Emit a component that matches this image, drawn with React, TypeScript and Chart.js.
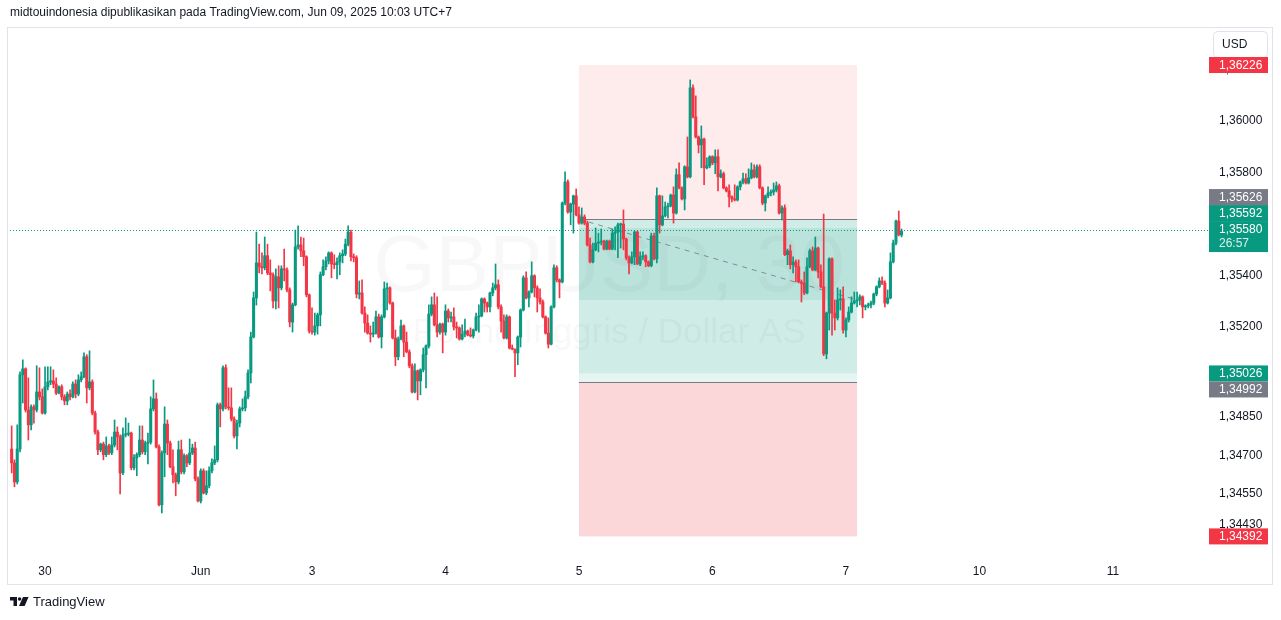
import React, { useEffect, useRef } from 'react';
import { Chart, registerables } from 'chart.js';

Chart.register(...registerables);

const FONT = '"Liberation Sans", Arial, Helvetica, sans-serif';
const UP = '#089981';
const DOWN = '#F23645';
const GRAY = '#787B86';
const TEXT = '#131722';

// ---- GBPUSD 30m candles (bar index 0 = May 29 18:00 UTC+7) ----
const opens = [
  1.34732, 1.34678, 1.34604, 1.34732, 1.35021, 1.35044, 1.34884, 1.34826, 1.34896, 1.34884,
  1.34954, 1.34935, 1.34872, 1.34974, 1.34993, 1.34997, 1.34985, 1.34950, 1.34974, 1.34935,
  1.34919, 1.34946, 1.34935, 1.34985, 1.34946, 1.35001, 1.35013, 1.35091, 1.34970, 1.34993,
  1.34872, 1.34798, 1.34729, 1.34751, 1.34710, 1.34744, 1.34717, 1.34748, 1.34798, 1.34779,
  1.34639, 1.34787, 1.34790, 1.34794, 1.34659, 1.34698, 1.34710, 1.34767, 1.34721, 1.34755,
  1.34759, 1.34888, 1.34927, 1.34740, 1.34515, 1.34717, 1.34829, 1.34755, 1.34663, 1.34632,
  1.34604, 1.34729, 1.34643, 1.34706, 1.34678, 1.34717, 1.34736, 1.34616, 1.34530, 1.34647,
  1.34561, 1.34589, 1.34647, 1.34678, 1.34690, 1.34904, 1.34888, 1.35048, 1.34896, 1.34892,
  1.34849, 1.34783, 1.34833, 1.34888, 1.34892, 1.34935, 1.35028, 1.35168, 1.35320, 1.35456,
  1.35441, 1.35437, 1.35484, 1.35417, 1.35410, 1.35308, 1.35402, 1.35359, 1.35433, 1.35429,
  1.35351, 1.35226, 1.35293, 1.35518, 1.35526, 1.35503, 1.35480, 1.35332, 1.35191, 1.35187,
  1.35211, 1.35254, 1.35410, 1.35441, 1.35464, 1.35495, 1.35452, 1.35449, 1.35460, 1.35484,
  1.35491, 1.35529, 1.35576, 1.35480, 1.35476, 1.35335, 1.35339, 1.35261, 1.35222, 1.35183,
  1.35179, 1.35183, 1.35246, 1.35168, 1.35246, 1.35355, 1.35359, 1.35300, 1.35164, 1.35091,
  1.35160, 1.35211, 1.35148, 1.35110, 1.35056, 1.34954, 1.35036, 1.34997, 1.35040, 1.35099,
  1.35133, 1.35257, 1.35293, 1.35215, 1.35187, 1.35218, 1.35187, 1.35269, 1.35242, 1.35246,
  1.35207, 1.35203, 1.35160, 1.35179, 1.35191, 1.35175, 1.35172, 1.35195, 1.35246, 1.35250,
  1.35316, 1.35300, 1.35285, 1.35339, 1.35359, 1.35371, 1.35285, 1.35230, 1.35164, 1.35246,
  1.35125, 1.35121, 1.35106, 1.35168, 1.35273, 1.35398, 1.35320, 1.35343, 1.35406, 1.35359,
  1.35320, 1.35304, 1.35246, 1.35183, 1.35140, 1.35285, 1.35437, 1.35390, 1.35382, 1.35689,
  1.35771, 1.35654, 1.35685, 1.35717, 1.35643, 1.35611, 1.35635, 1.35611, 1.35526, 1.35460,
  1.35507, 1.35533, 1.35537, 1.35541, 1.35510, 1.35541, 1.35510, 1.35572, 1.35576, 1.35604,
  1.35607, 1.35549, 1.35476, 1.35456, 1.35480, 1.35576, 1.35452, 1.35480, 1.35484, 1.35460,
  1.35445, 1.35561, 1.35472, 1.35717, 1.35604, 1.35639, 1.35674, 1.35678, 1.35720, 1.35650,
  1.35799, 1.35748, 1.35705, 1.35830, 1.35791, 1.36137, 1.36024, 1.35946, 1.35915, 1.35938,
  1.35826, 1.35834, 1.35869, 1.35845, 1.35869, 1.35791, 1.35803, 1.35748, 1.35736, 1.35713,
  1.35705, 1.35701, 1.35752, 1.35771, 1.35783, 1.35767, 1.35787, 1.35818, 1.35791, 1.35830,
  1.35748, 1.35689, 1.35717, 1.35728, 1.35732, 1.35740, 1.35756, 1.35650, 1.35670, 1.35488,
  1.35503, 1.35449, 1.35460, 1.35441, 1.35382, 1.35378, 1.35339, 1.35441, 1.35503, 1.35429,
  1.35514, 1.35421, 1.35363, 1.35102, 1.35261, 1.35472, 1.35261, 1.35242, 1.35312, 1.35316,
  1.35195, 1.35234, 1.35265, 1.35300, 1.35308, 1.35312, 1.35324, 1.35285, 1.35289, 1.35293,
  1.35300, 1.35335, 1.35363, 1.35386, 1.35378, 1.35300, 1.35320, 1.35460, 1.35533, 1.35619,
  1.35565,
];

const highs = [
  1.34822, 1.34690, 1.34826, 1.35032, 1.35079, 1.35048, 1.35009, 1.34904, 1.34904, 1.35056,
  1.35048, 1.34966, 1.35052, 1.35052, 1.35052, 1.35040, 1.35009, 1.34978, 1.34982, 1.34943,
  1.34954, 1.34962, 1.34993, 1.35001, 1.35021, 1.35032, 1.35106, 1.35099, 1.35114, 1.35001,
  1.34880, 1.34806, 1.34755, 1.34759, 1.34779, 1.34751, 1.34779, 1.34845, 1.34818, 1.34787,
  1.34814, 1.34853, 1.34833, 1.34798, 1.34710, 1.34717, 1.34822, 1.34822, 1.34763, 1.34794,
  1.34935, 1.35001, 1.34950, 1.34748, 1.34725, 1.34896, 1.34845, 1.34763, 1.34729, 1.34639,
  1.34763, 1.34767, 1.34713, 1.34710, 1.34771, 1.34751, 1.34759, 1.34624, 1.34655, 1.34655,
  1.34647, 1.34663, 1.34694, 1.34744, 1.34911, 1.34911, 1.35056, 1.35060, 1.34970, 1.34970,
  1.34857, 1.34845, 1.34896, 1.34927, 1.34958, 1.35040, 1.35187, 1.35343, 1.35576, 1.35529,
  1.35495, 1.35557, 1.35529, 1.35468, 1.35417, 1.35433, 1.35445, 1.35445, 1.35510, 1.35437,
  1.35359, 1.35300, 1.35584, 1.35600, 1.35557, 1.35553, 1.35484, 1.35335, 1.35281, 1.35261,
  1.35261, 1.35421, 1.35468, 1.35480, 1.35499, 1.35499, 1.35488, 1.35476, 1.35495, 1.35507,
  1.35549, 1.35600, 1.35584, 1.35491, 1.35484, 1.35386, 1.35390, 1.35285, 1.35254, 1.35211,
  1.35226, 1.35269, 1.35257, 1.35254, 1.35382, 1.35378, 1.35363, 1.35304, 1.35195, 1.35168,
  1.35234, 1.35215, 1.35187, 1.35118, 1.35063, 1.35063, 1.35040, 1.35044, 1.35125, 1.35137,
  1.35293, 1.35324, 1.35339, 1.35324, 1.35222, 1.35222, 1.35293, 1.35277, 1.35265, 1.35281,
  1.35226, 1.35207, 1.35215, 1.35238, 1.35195, 1.35203, 1.35199, 1.35261, 1.35293, 1.35320,
  1.35320, 1.35304, 1.35343, 1.35378, 1.35452, 1.35390, 1.35293, 1.35254, 1.35254, 1.35250,
  1.35137, 1.35121, 1.35172, 1.35277, 1.35406, 1.35421, 1.35347, 1.35460, 1.35410, 1.35367,
  1.35355, 1.35312, 1.35250, 1.35242, 1.35289, 1.35449, 1.35445, 1.35394, 1.35693, 1.35810,
  1.35779, 1.35689, 1.35720, 1.35744, 1.35674, 1.35670, 1.35643, 1.35619, 1.35553, 1.35533,
  1.35592, 1.35572, 1.35588, 1.35545, 1.35545, 1.35545, 1.35588, 1.35596, 1.35611, 1.35611,
  1.35662, 1.35553, 1.35484, 1.35499, 1.35580, 1.35580, 1.35499, 1.35499, 1.35488, 1.35464,
  1.35572, 1.35572, 1.35748, 1.35720, 1.35717, 1.35693, 1.35689, 1.35724, 1.35752, 1.35822,
  1.35845, 1.35752, 1.35834, 1.35946, 1.36168, 1.36149, 1.36106, 1.35950, 1.35989, 1.35942,
  1.35865, 1.35873, 1.35873, 1.35896, 1.35896, 1.35818, 1.35810, 1.35752, 1.35760, 1.35717,
  1.35760, 1.35756, 1.35775, 1.35806, 1.35803, 1.35822, 1.35845, 1.35838, 1.35838, 1.35838,
  1.35752, 1.35720, 1.35752, 1.35740, 1.35767, 1.35771, 1.35763, 1.35678, 1.35682, 1.35510,
  1.35526, 1.35480, 1.35468, 1.35468, 1.35390, 1.35421, 1.35476, 1.35510, 1.35518, 1.35557,
  1.35518, 1.35449, 1.35646, 1.35265, 1.35476, 1.35476, 1.35312, 1.35359, 1.35351, 1.35363,
  1.35242, 1.35285, 1.35324, 1.35343, 1.35343, 1.35332, 1.35328, 1.35293, 1.35300, 1.35308,
  1.35339, 1.35367, 1.35398, 1.35402, 1.35386, 1.35351, 1.35495, 1.35545, 1.35623, 1.35658,
  1.35588,
];

const lows = [
  1.34639, 1.34585, 1.34596, 1.34721, 1.34911, 1.34876, 1.34767, 1.34806, 1.34833, 1.34876,
  1.34923, 1.34868, 1.34868, 1.34962, 1.34982, 1.34970, 1.34943, 1.34946, 1.34923, 1.34904,
  1.34904, 1.34923, 1.34931, 1.34931, 1.34939, 1.34993, 1.35009, 1.34911, 1.34962, 1.34865,
  1.34790, 1.34710, 1.34721, 1.34690, 1.34702, 1.34710, 1.34710, 1.34740, 1.34729, 1.34557,
  1.34632, 1.34779, 1.34783, 1.34651, 1.34651, 1.34628, 1.34702, 1.34713, 1.34710, 1.34674,
  1.34751, 1.34880, 1.34736, 1.34511, 1.34483, 1.34624, 1.34710, 1.34659, 1.34600, 1.34550,
  1.34596, 1.34635, 1.34635, 1.34663, 1.34671, 1.34710, 1.34608, 1.34526, 1.34522, 1.34557,
  1.34554, 1.34581, 1.34639, 1.34671, 1.34682, 1.34818, 1.34880, 1.34888, 1.34884, 1.34841,
  1.34775, 1.34732, 1.34818, 1.34880, 1.34880, 1.34927, 1.34989, 1.35164, 1.35292, 1.35417,
  1.35413, 1.35429, 1.35410, 1.35347, 1.35281, 1.35277, 1.35281, 1.35351, 1.35386, 1.35343,
  1.35207, 1.35187, 1.35289, 1.35510, 1.35480, 1.35445, 1.35324, 1.35183, 1.35179, 1.35175,
  1.35179, 1.35211, 1.35406, 1.35429, 1.35452, 1.35398, 1.35433, 1.35394, 1.35410, 1.35456,
  1.35484, 1.35522, 1.35464, 1.35460, 1.35320, 1.35316, 1.35257, 1.35187, 1.35179, 1.35148,
  1.35168, 1.35179, 1.35164, 1.35125, 1.35242, 1.35273, 1.35296, 1.35160, 1.35056, 1.35079,
  1.35156, 1.35091, 1.35106, 1.35048, 1.34950, 1.34950, 1.34923, 1.34943, 1.35032, 1.34970,
  1.35125, 1.35250, 1.35211, 1.35168, 1.35179, 1.35106, 1.35175, 1.35226, 1.35226, 1.35195,
  1.35164, 1.35156, 1.35156, 1.35168, 1.35172, 1.35168, 1.35164, 1.35191, 1.35187, 1.35246,
  1.35265, 1.35265, 1.35265, 1.35328, 1.35351, 1.35277, 1.35187, 1.35160, 1.35160, 1.35121,
  1.35118, 1.35013, 1.35060, 1.35129, 1.35269, 1.35316, 1.35285, 1.35339, 1.35324, 1.35265,
  1.35296, 1.35242, 1.35179, 1.35125, 1.35137, 1.35281, 1.35382, 1.35320, 1.35378, 1.35682,
  1.35650, 1.35604, 1.35572, 1.35639, 1.35607, 1.35607, 1.35604, 1.35522, 1.35456, 1.35456,
  1.35503, 1.35499, 1.35526, 1.35507, 1.35507, 1.35507, 1.35507, 1.35507, 1.35476, 1.35514,
  1.35507, 1.35468, 1.35413, 1.35452, 1.35449, 1.35449, 1.35445, 1.35468, 1.35441, 1.35441,
  1.35441, 1.35468, 1.35456, 1.35572, 1.35600, 1.35635, 1.35631, 1.35674, 1.35611, 1.35646,
  1.35744, 1.35701, 1.35662, 1.35787, 1.35787, 1.36020, 1.35942, 1.35884, 1.35826, 1.35760,
  1.35822, 1.35826, 1.35838, 1.35803, 1.35736, 1.35787, 1.35744, 1.35732, 1.35674, 1.35693,
  1.35697, 1.35697, 1.35740, 1.35763, 1.35763, 1.35763, 1.35783, 1.35787, 1.35787, 1.35744,
  1.35682, 1.35658, 1.35709, 1.35717, 1.35720, 1.35732, 1.35646, 1.35623, 1.35484, 1.35449,
  1.35433, 1.35417, 1.35382, 1.35378, 1.35304, 1.35332, 1.35335, 1.35437, 1.35425, 1.35425,
  1.35398, 1.35359, 1.35095, 1.35083, 1.35195, 1.35175, 1.35195, 1.35234, 1.35273, 1.35183,
  1.35168, 1.35226, 1.35261, 1.35296, 1.35285, 1.35293, 1.35242, 1.35273, 1.35281, 1.35281,
  1.35293, 1.35328, 1.35359, 1.35371, 1.35285, 1.35296, 1.35316, 1.35456, 1.35526, 1.35561,
  1.35557,
];

const closes = [
  1.34678, 1.34604, 1.34732, 1.35021, 1.35044, 1.34884, 1.34826, 1.34896, 1.34884, 1.34954,
  1.34935, 1.34872, 1.34974, 1.34993, 1.34997, 1.34985, 1.34950, 1.34974, 1.34935, 1.34919,
  1.34946, 1.34935, 1.34985, 1.34946, 1.35001, 1.35013, 1.35091, 1.34970, 1.34993, 1.34872,
  1.34798, 1.34729, 1.34751, 1.34710, 1.34744, 1.34717, 1.34748, 1.34798, 1.34779, 1.34639,
  1.34787, 1.34790, 1.34794, 1.34659, 1.34698, 1.34710, 1.34767, 1.34721, 1.34755, 1.34759,
  1.34888, 1.34927, 1.34740, 1.34515, 1.34717, 1.34829, 1.34755, 1.34663, 1.34632, 1.34604,
  1.34729, 1.34643, 1.34706, 1.34678, 1.34717, 1.34736, 1.34616, 1.34530, 1.34647, 1.34561,
  1.34589, 1.34647, 1.34678, 1.34690, 1.34904, 1.34888, 1.35048, 1.34896, 1.34892, 1.34849,
  1.34783, 1.34833, 1.34888, 1.34892, 1.34935, 1.35028, 1.35168, 1.35320, 1.35456, 1.35441,
  1.35437, 1.35484, 1.35417, 1.35410, 1.35308, 1.35402, 1.35359, 1.35433, 1.35429, 1.35351,
  1.35226, 1.35293, 1.35518, 1.35526, 1.35503, 1.35480, 1.35332, 1.35191, 1.35187, 1.35211,
  1.35254, 1.35410, 1.35441, 1.35464, 1.35495, 1.35452, 1.35449, 1.35460, 1.35484, 1.35491,
  1.35529, 1.35576, 1.35480, 1.35476, 1.35335, 1.35339, 1.35261, 1.35222, 1.35183, 1.35179,
  1.35183, 1.35246, 1.35168, 1.35246, 1.35355, 1.35359, 1.35300, 1.35164, 1.35091, 1.35160,
  1.35211, 1.35148, 1.35110, 1.35056, 1.34954, 1.35036, 1.34997, 1.35040, 1.35099, 1.35133,
  1.35257, 1.35293, 1.35215, 1.35187, 1.35218, 1.35187, 1.35269, 1.35242, 1.35246, 1.35207,
  1.35203, 1.35160, 1.35179, 1.35191, 1.35175, 1.35172, 1.35195, 1.35246, 1.35250, 1.35316,
  1.35300, 1.35285, 1.35339, 1.35359, 1.35371, 1.35285, 1.35230, 1.35164, 1.35246, 1.35125,
  1.35121, 1.35106, 1.35168, 1.35273, 1.35398, 1.35320, 1.35343, 1.35406, 1.35359, 1.35320,
  1.35304, 1.35246, 1.35183, 1.35140, 1.35285, 1.35437, 1.35390, 1.35382, 1.35689, 1.35771,
  1.35654, 1.35685, 1.35717, 1.35643, 1.35611, 1.35635, 1.35611, 1.35526, 1.35460, 1.35507,
  1.35533, 1.35537, 1.35541, 1.35510, 1.35541, 1.35510, 1.35572, 1.35576, 1.35604, 1.35607,
  1.35549, 1.35476, 1.35456, 1.35480, 1.35576, 1.35452, 1.35480, 1.35484, 1.35460, 1.35445,
  1.35561, 1.35472, 1.35717, 1.35604, 1.35639, 1.35674, 1.35678, 1.35720, 1.35650, 1.35799,
  1.35748, 1.35705, 1.35830, 1.35791, 1.36137, 1.36024, 1.35946, 1.35915, 1.35938, 1.35826,
  1.35834, 1.35869, 1.35845, 1.35869, 1.35791, 1.35803, 1.35748, 1.35736, 1.35713, 1.35705,
  1.35701, 1.35752, 1.35771, 1.35783, 1.35767, 1.35787, 1.35818, 1.35791, 1.35830, 1.35748,
  1.35689, 1.35717, 1.35728, 1.35732, 1.35740, 1.35756, 1.35650, 1.35670, 1.35488, 1.35503,
  1.35449, 1.35460, 1.35441, 1.35382, 1.35378, 1.35339, 1.35441, 1.35503, 1.35429, 1.35514,
  1.35421, 1.35363, 1.35102, 1.35261, 1.35472, 1.35261, 1.35242, 1.35312, 1.35316, 1.35195,
  1.35234, 1.35265, 1.35300, 1.35308, 1.35312, 1.35324, 1.35285, 1.35289, 1.35293, 1.35300,
  1.35335, 1.35363, 1.35386, 1.35378, 1.35300, 1.35320, 1.35460, 1.35533, 1.35619, 1.35565,
  1.35580,
];

// ---- axis ticks ----
const timeTickBars = [12, 68, 108, 156, 204, 252, 300, 348, 396];
const timeTickLabels = ['30', 'Jun', '3', '4', '5', '6', '7', '10', '11'];
const priceTicks = [1.362, 1.36, 1.358, 1.354, 1.352, 1.3485, 1.347, 1.3455, 1.3443];

// ---- view range (bar index / price) ----
const xRange = [-0.6, 430.2];
const yRange = [1.34308, 1.3637];

// ---- position tools ----
const shortEntry = 1.35626;
const shortStop = 1.36226;
const shortTarget = 1.35026;
const longEntry = 1.34992;
const longStop = 1.34392;
const longTarget = 1.35592;
const toolStartBar = 204;
const toolEndBar = 304;

const lastPrice = closes[closes.length - 1];
const countdown = '26:57';
const symbolText = 'GBPUSD, 30';
const descText = 'Pound Inggris / Dollar AS';
const headerText = 'midtouindonesia dipublikasikan pada TradingView.com, Jun 09, 2025 10:03 UTC+7';

const priceLabels = [
  { price: shortStop, color: DOWN },
  { price: shortEntry, color: GRAY },
  { price: longTarget, color: UP },
  { price: lastPrice, color: UP, sub: countdown },
  { price: shortTarget, color: UP },
  { price: longEntry, color: GRAY },
  { price: longStop, color: DOWN },
];

const fmt = (v: number) => v.toFixed(5).replace('.', ',');

const tvPlugin = {
  id: 'tvDecor',
  beforeDraw(chart: any) {
    const { ctx, width, height } = chart;
    ctx.save();
    ctx.fillStyle = '#ffffff';
    ctx.fillRect(0, 0, width, height);
    ctx.font = `12px ${FONT}`;
    ctx.fillStyle = TEXT;
    ctx.textAlign = 'left';
    ctx.textBaseline = 'middle';
    ctx.fillText(headerText, 10, 13);
    ctx.strokeStyle = '#e0e3eb';
    ctx.lineWidth = 1;
    ctx.strokeRect(7.5, 27.5, 1265, 557);
    // TradingView logo
    ctx.fillStyle = TEXT;
    ctx.fillRect(10, 597, 7, 3.5);
    ctx.fillRect(13.5, 597, 3.5, 9);
    ctx.beginPath();
    ctx.arc(19.6, 599, 1.8, 0, Math.PI * 2);
    ctx.fill();
    ctx.beginPath();
    ctx.moveTo(23, 597);
    ctx.lineTo(28.6, 597);
    ctx.lineTo(24.6, 606);
    ctx.lineTo(19, 606);
    ctx.closePath();
    ctx.fill();
    ctx.font = `13px ${FONT}`;
    ctx.fillText('TradingView', 33, 602);
    ctx.restore();
  },
  beforeDatasetsDraw(chart: any) {
    const { ctx, chartArea: a, scales } = chart;
    const xs = scales.x;
    const ys = scales.y;
    ctx.save();
    ctx.beginPath();
    ctx.rect(a.left, a.top, a.right - a.left, a.bottom - a.top);
    ctx.clip();
    // watermark
    const cx = (a.left + a.right) / 2;
    ctx.fillStyle = 'rgba(19,23,34,0.03)';
    ctx.textAlign = 'center';
    ctx.textBaseline = 'middle';
    ctx.font = `80px ${FONT}`;
    ctx.fillText(symbolText, cx, a.top + 241);
    ctx.font = `35px ${FONT}`;
    ctx.fillText(descText, cx, a.top + 305);
    // position tools
    const x0 = xs.getPixelForValue(toolStartBar);
    const x1 = xs.getPixelForValue(toolEndBar);
    const band = (p1: number, p2: number, color: string) => {
      const ya = ys.getPixelForValue(p1);
      const yb = ys.getPixelForValue(p2);
      ctx.fillStyle = color;
      ctx.fillRect(x0, Math.min(ya, yb), x1 - x0, Math.abs(yb - ya));
    };
    band(shortEntry, shortStop, 'rgba(242,54,69,0.1)');
    band(longEntry, longStop, 'rgba(242,54,69,0.2)');
    band(shortEntry, shortTarget, 'rgba(8,153,129,0.1)');
    band(longEntry, longTarget, 'rgba(8,153,129,0.1)');
    band(shortEntry, closes[toolEndBar], 'rgba(8,153,129,0.1)');
    ctx.strokeStyle = GRAY;
    ctx.lineWidth = 1;
    [shortEntry, longEntry].forEach((p) => {
      const yy = Math.round(ys.getPixelForValue(p)) + 0.5;
      ctx.beginPath();
      ctx.moveTo(x0, yy);
      ctx.lineTo(x1, yy);
      ctx.stroke();
    });
    ctx.setLineDash([5, 5]);
    ctx.strokeStyle = 'rgba(120,123,134,0.85)';
    ctx.beginPath();
    ctx.moveTo(x0, ys.getPixelForValue(shortEntry));
    ctx.lineTo(x1, ys.getPixelForValue(closes[toolEndBar]));
    ctx.stroke();
    ctx.restore();
  },
  afterDatasetsDraw(chart: any) {
    const { ctx, chartArea: a, scales } = chart;
    const yy = Math.round(scales.y.getPixelForValue(lastPrice)) - 0.5;
    ctx.save();
    ctx.setLineDash([1, 2]);
    ctx.strokeStyle = UP;
    ctx.lineWidth = 1;
    ctx.beginPath();
    ctx.moveTo(a.left, yy);
    ctx.lineTo(a.right, yy);
    ctx.stroke();
    ctx.restore();
  },
  afterDraw(chart: any) {
    const { ctx, scales } = chart;
    const ys = scales.y;
    ctx.save();
    // USD box
    ctx.fillStyle = '#ffffff';
    ctx.strokeStyle = '#e0e3eb';
    ctx.lineWidth = 1;
    ctx.beginPath();
    (ctx as any).roundRect(1213.5, 31.5, 54, 26, 4);
    ctx.fill();
    ctx.stroke();
    ctx.fillStyle = TEXT;
    ctx.font = `12px ${FONT}`;
    ctx.textAlign = 'left';
    ctx.textBaseline = 'middle';
    ctx.fillText('USD', 1222, 44.5);

    // price labels with overlap resolution
    const H = 16;
    const CUR_H = 31;
    const items = priceLabels.map((l) => ({ ...l, y: ys.getPixelForValue(l.price), top: 0 }));
    const cur = items.find((l) => l.sub)!;
    cur.top = cur.y - 10;
    let limit = cur.top;
    items
      .filter((l) => !l.sub && l.y <= cur.y)
      .sort((p, q) => q.y - p.y)
      .forEach((l) => {
        let top = l.y - H / 2;
        if (top + H > limit) top = limit - H;
        l.top = top;
        limit = top;
      });
    limit = cur.top + CUR_H;
    items
      .filter((l) => !l.sub && l.y > cur.y)
      .sort((p, q) => p.y - q.y)
      .forEach((l) => {
        let top = l.y - H / 2;
        if (top < limit) top = limit;
        l.top = top;
        limit = top + H;
      });
    const bx = ys.left + 1;
    const bw = 59;
    items.forEach((l) => {
      const h = l.sub ? CUR_H : H;
      ctx.fillStyle = l.color;
      ctx.fillRect(bx, l.top, bw, h);
      ctx.fillStyle = '#ffffff';
      ctx.font = `12px ${FONT}`;
      ctx.fillText(fmt(l.price), ys.left + 11, l.top + 8.5);
      if (l.sub) {
        ctx.fillStyle = 'rgba(255,255,255,0.85)';
        ctx.fillText(l.sub, ys.left + 11, l.top + 23);
      }
    });
    ctx.restore();
  },
};

export default function App() {
  const canvasRef = useRef<HTMLCanvasElement>(null);

  useEffect(() => {
    const canvas = canvasRef.current;
    if (!canvas) return;
    const bars = closes.map((_, i) => i);
    const colors = bars.map((i) => (closes[i] >= opens[i] ? UP : DOWN));
    const tickFont = { family: FONT, size: 12 };
    const chart = new Chart(canvas, {
      type: 'bar',
      data: {
        datasets: [
          {
            label: 'wicks',
            data: bars.map((i) => ({ x: i, y: [lows[i], highs[i]] })) as any,
            backgroundColor: colors,
            barThickness: 1,
            maxBarThickness: 1,
            barPercentage: 1,
            categoryPercentage: 1,
            grouped: false,
            order: 2,
          } as any,
          {
            label: 'bodies',
            data: bars.map((i) => ({ x: i, y: [opens[i], closes[i]] })) as any,
            backgroundColor: colors,
            barThickness: 2.4,
            maxBarThickness: 2.4,
            barPercentage: 1,
            categoryPercentage: 1,
            minBarLength: 1,
            grouped: false,
            order: 1,
          } as any,
        ],
      },
      options: {
        responsive: false,
        animation: false,
        devicePixelRatio: 1,
        events: [],
        layout: { padding: { left: 10, top: 28, right: 9, bottom: 35 } },
        plugins: { legend: { display: false }, tooltip: { enabled: false } },
        scales: {
          x: {
            type: 'linear',
            position: 'bottom',
            min: xRange[0],
            max: xRange[1],
            offset: false,
            grid: { display: false, drawTicks: false },
            border: { display: false },
            afterBuildTicks: (s: any) => {
              s.ticks = timeTickBars.map((v) => ({ value: v }));
            },
            afterFit: (s: any) => {
              s.height = 27;
            },
            ticks: {
              autoSkip: false,
              maxRotation: 0,
              padding: 6,
              color: TEXT,
              font: tickFont,
              callback: (_v: any, i: number) => timeTickLabels[i],
            },
          },
          y: {
            type: 'linear',
            position: 'right',
            min: yRange[0],
            max: yRange[1],
            grid: { display: false, drawTicks: false },
            border: { display: false },
            afterBuildTicks: (s: any) => {
              s.ticks = priceTicks.map((v) => ({ value: v }));
            },
            afterFit: (s: any) => {
              s.width = 64;
            },
            ticks: {
              autoSkip: false,
              padding: 11,
              labelOffset: -2,
              color: TEXT,
              font: tickFont,
              callback: (v: any) => fmt(Number(v)),
            },
          },
        },
      } as any,
      plugins: [tvPlugin as any],
    });
    return () => chart.destroy();
  }, []);

  return (
    <div style={{ position: 'absolute', left: 0, top: 0, width: 1281, height: 620, background: '#ffffff' }}>
      <canvas ref={canvasRef} width={1281} height={620} style={{ display: 'block' }} />
    </div>
  );
}
